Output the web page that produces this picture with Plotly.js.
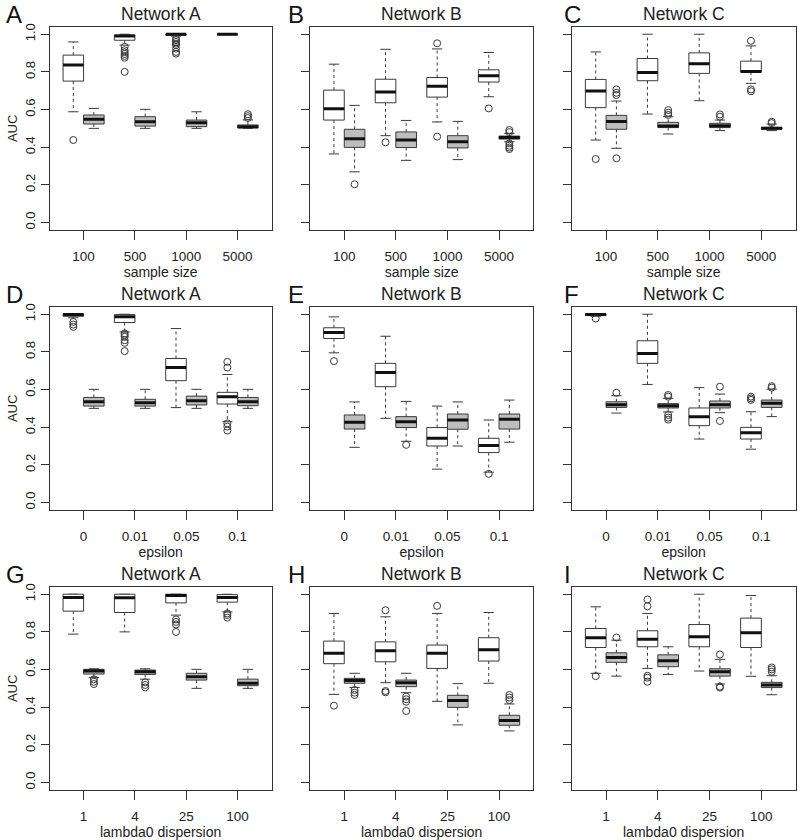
<!DOCTYPE html>
<html>
<head>
<meta charset="utf-8">
<script src="https://cdn.plot.ly/plotly-3.0.1.min.js"></script>
<style>html,body{margin:0;padding:0;background:#fff;}#chart{width:798px;height:840px;}</style>
</head>
<body>
<div id="chart"></div>
<script>
// ---------- categories / labels ----------
const catsSample = ["100", "500", "1000", "5000"];
const catsEpsilon = ["0", "0.01", "0.05", "0.1"];
const catsLambda = ["1", "4", "25", "100"];
const yTickVals = [0, 0.2, 0.4, 0.6, 0.8, 1.0];
const yTickText = ["0.0", "0.2", "0.4", "0.6", "0.8", "1.0"];
const panelLetters = ["A", "B", "C", "D", "E", "F", "G", "H", "I"];
const panelTitles = ["Network A", "Network B", "Network C", "Network A", "Network B", "Network C", "Network A", "Network B", "Network C"];
const rowXLabels = ["sample size", "epsilon", "lambda0 dispersion"];

// ---------- box statistics: [lower whisker, Q1, median, Q3, upper whisker] ----------
// Panel A
const A_white = [[0.588,0.751,0.836,0.889,0.959],[0.942,0.968,0.991,0.996,1.000],[0.990,0.995,1.000,1.000,1.000],[0.998,0.998,1.000,1.000,1.000]];
const A_white_out = [[0.438],[0.933,0.915,0.905,0.895,0.885,0.875,0.800],[0.977,0.968,0.959,0.950,0.942,0.924,0.906,0.897],[]];
const A_gray = [[0.500,0.523,0.548,0.571,0.606],[0.500,0.512,0.535,0.562,0.601],[0.500,0.509,0.530,0.544,0.588],[0.500,0.502,0.509,0.518,0.545]];
const A_gray_out = [[],[],[],[0.555,0.565,0.575]];
// Panel B
const B_white = [[0.364,0.544,0.604,0.703,0.841],[0.461,0.636,0.693,0.761,0.920],[0.534,0.666,0.723,0.770,0.922],[0.668,0.746,0.779,0.811,0.903]];
const B_white_out = [[],[0.426],[0.952,0.456],[0.606]];
const B_gray = [[0.269,0.399,0.445,0.495,0.622],[0.330,0.398,0.438,0.481,0.542],[0.334,0.396,0.429,0.461,0.537],[0.429,0.443,0.451,0.459,0.473]];
const B_gray_out = [[0.203],[],[],[0.491,0.480,0.420,0.408,0.398,0.390]];
// Panel C
const C_white = [[0.438,0.610,0.698,0.760,0.906],[0.576,0.753,0.797,0.871,1.000],[0.647,0.792,0.843,0.901,1.000],[0.739,0.799,0.802,0.857,0.938]];
const C_white_out = [[0.337],[],[],[0.965,0.707,0.697]];
const C_gray = [[0.394,0.495,0.537,0.569,0.645],[0.470,0.504,0.512,0.532,0.562],[0.488,0.504,0.514,0.527,0.544],[0.488,0.495,0.500,0.505,0.523]];
const C_gray_out = [[0.707,0.689,0.677,0.341],[0.597,0.583,0.571],[0.574,0.562],[0.535,0.528]];
// Panel D
const D_white = [[0.981,0.989,0.998,1.000,1.000],[0.906,0.956,0.986,0.998,1.000],[0.504,0.647,0.717,0.765,0.924],[0.429,0.523,0.562,0.585,0.680]];
const D_white_out = [[0.959,0.945,0.933],[0.898,0.889,0.880,0.862,0.848,0.804],[],[0.747,0.717,0.420,0.403,0.382]];
const D_gray = [[0.500,0.512,0.535,0.558,0.601],[0.500,0.512,0.530,0.548,0.601],[0.500,0.518,0.541,0.565,0.601],[0.500,0.514,0.535,0.558,0.601]];
const D_gray_out = [[],[],[],[]];
// Panel E
const E_white = [[0.795,0.871,0.903,0.928,0.986],[0.447,0.615,0.691,0.739,0.883],[0.177,0.300,0.341,0.398,0.512],[0.161,0.265,0.302,0.341,0.438]];
const E_white_out = [[0.751],[],[],[0.152]];
const E_gray = [[0.293,0.390,0.426,0.465,0.534],[0.325,0.398,0.429,0.456,0.537],[0.300,0.389,0.438,0.470,0.534],[0.320,0.390,0.442,0.470,0.544]];
const E_gray_out = [[],[0.306],[],[]];
// Panel F
const F_white = [[0.989,0.993,0.998,1.000,1.000],[0.627,0.739,0.792,0.859,1.000],[0.337,0.408,0.456,0.502,0.610],[0.283,0.337,0.371,0.399,0.482]];
const F_white_out = [[0.977],[],[],[0.562,0.553,0.545]];
const F_gray = [[0.475,0.505,0.519,0.535,0.567],[0.481,0.502,0.514,0.525,0.553],[0.477,0.502,0.519,0.539,0.576],[0.456,0.505,0.527,0.544,0.602]];
const F_gray_out = [[0.583],[0.571,0.562,0.465,0.451,0.440],[0.615,0.433],[0.618,0.610]];
// Panel G
const G_white = [[0.788,0.910,0.982,1.000,1.000],[0.800,0.903,0.981,1.000,1.000],[0.889,0.954,0.993,1.000,1.000],[0.906,0.958,0.982,0.998,1.000]];
const G_white_out = [[],[],[0.866,0.853,0.839,0.800],[0.898,0.889,0.876]];
const G_gray = [[0.558,0.576,0.592,0.601,0.604],[0.549,0.574,0.588,0.597,0.604],[0.500,0.544,0.562,0.580,0.601],[0.500,0.514,0.527,0.549,0.601]];
const G_gray_out = [[0.548,0.535,0.523],[0.532,0.518,0.505],[],[]];
// Panel H
const H_white = [[0.468,0.631,0.687,0.751,0.898],[0.530,0.641,0.700,0.747,0.880],[0.431,0.606,0.686,0.730,0.898],[0.527,0.645,0.705,0.769,0.903]];
const H_white_out = [[0.408],[0.915,0.486,0.479],[0.938],[]];
const H_gray = [[0.505,0.527,0.542,0.553,0.580],[0.477,0.509,0.530,0.544,0.580],[0.306,0.399,0.435,0.463,0.525],[0.274,0.304,0.329,0.357,0.417]];
const H_gray_out = [[0.491,0.477,0.465],[0.456,0.442,0.429,0.380],[],[0.465,0.451,0.438]];
// Panel I
const I_white = [[0.580,0.717,0.769,0.818,0.933],[0.606,0.721,0.761,0.806,0.898],[0.592,0.721,0.774,0.839,1.000],[0.564,0.717,0.795,0.873,0.993]];
const I_white_out = [[0.565],[0.972,0.936,0.567,0.557,0.535],[],[]];
const I_gray = [[0.565,0.638,0.664,0.689,0.756],[0.574,0.615,0.647,0.678,0.721],[0.523,0.565,0.588,0.604,0.654],[0.466,0.504,0.518,0.532,0.567]];
const I_gray_out = [[0.770],[],[0.680,0.509,0.504],[0.611,0.601,0.588]];

// ---------- assemble ----------
const whites = [A_white,B_white,C_white,D_white,E_white,F_white,G_white,H_white,I_white];
const whiteOuts = [A_white_out,B_white_out,C_white_out,D_white_out,E_white_out,F_white_out,G_white_out,H_white_out,I_white_out];
const grays = [A_gray,B_gray,C_gray,D_gray,E_gray,F_gray,G_gray,H_gray,I_gray];
const grayOuts = [A_gray_out,B_gray_out,C_gray_out,D_gray_out,E_gray_out,F_gray_out,G_gray_out,H_gray_out,I_gray_out];
const rowCats = [catsSample, catsEpsilon, catsLambda];

const W = 798, H = 840;
const colPx = [[49.5,271.7],[310,533.3],[571.7,795.7]];
const rowPx = [[26.7,230],[306.7,510],[586.7,790]];
const letterX = [4, 286, 562];
const FONT = "Liberation Sans, Arial, Helvetica, sans-serif";
const LINE = "#333";
const BOXLINE = "#3a3a3a";

const traces = [];
const layout = {
  width: W, height: H,
  margin: {l:0, r:0, t:0, b:0},
  paper_bgcolor: "#fff", plot_bgcolor: "#fff",
  showlegend: false,
  font: {family: FONT, color: "#222", size: 13},
  annotations: []
};

function addBoxes(stats, outs, offset, fillcolor, xa, ya) {
  const px=[],py=[],mx=[],my=[],wx=[],wy=[],cx=[],cy=[],ox=[],oy=[];
  const h = 0.2, st = 0.1;
  stats.forEach((s, i) => {
    const c = i + 1 + offset;
    const [lo,q1,md,q3,hi] = s;
    px.push(c-h,c+h,c+h,c-h,c-h,null); py.push(q1,q1,q3,q3,q1,null);
    mx.push(c-h,c+h,null); my.push(md,md,null);
    wx.push(c,c,null,c,c,null); wy.push(q3,hi,null,q1,lo,null);
    cx.push(c-st,c+st,null,c-st,c+st,null); cy.push(hi,hi,null,lo,lo,null);
    (outs[i]||[]).forEach(v => { ox.push(c); oy.push(v); });
  });
  const base = {xaxis: xa, yaxis: ya, hoverinfo: "skip", showlegend: false, type: "scatter"};
  traces.push(Object.assign({}, base, {x: wx, y: wy, mode: "lines", line: {color: BOXLINE, width: 1, dash: "3px,3px"}}));
  traces.push(Object.assign({}, base, {x: cx, y: cy, mode: "lines", line: {color: BOXLINE, width: 1}}));
  traces.push(Object.assign({}, base, {x: px, y: py, mode: "lines", fill: "toself", fillcolor: fillcolor, line: {color: BOXLINE, width: 1}}));
  traces.push(Object.assign({}, base, {x: mx, y: my, mode: "lines", line: {color: "#111", width: 3}}));
  traces.push(Object.assign({}, base, {x: ox, y: oy, mode: "markers", marker: {symbol: "circle-open", size: 7, color: BOXLINE, line: {width: 1, color: BOXLINE}}}));
}

for (let k = 0; k < 9; k++) {
  const r = Math.floor(k / 3), c = k % 3;
  const sfx = k === 0 ? "" : String(k + 1);
  const xa = "x" + sfx, ya = "y" + sfx;
  const [l, rr] = colPx[c];
  const [t, b] = rowPx[r];
  layout["xaxis" + sfx] = {
    domain: [l / W, rr / W], anchor: ya,
    range: [0.336, 4.664], tickmode: "array", tickvals: [1,2,3,4], ticktext: rowCats[r],
    ticks: "outside", ticklen: 9, tickcolor: LINE, tickwidth: 1,
    ticklabelstandoff: 5,
    showline: true, mirror: true, linecolor: LINE, linewidth: 1,
    showgrid: false, zeroline: false, fixedrange: true,
    tickfont: {size: 13.5, family: FONT, color: "#222"},
    title: {text: rowXLabels[r], font: {size: 14, family: FONT, color: "#222"}, standoff: 0}
  };
  layout["yaxis" + sfx] = {
    domain: [1 - b / H, 1 - t / H], anchor: xa,
    range: [-0.04, 1.04], tickmode: "array", tickvals: yTickVals, ticktext: yTickText,
    tickangle: -90, ticks: "outside", ticklen: 8, tickcolor: LINE, tickwidth: 1,
    ticklabelstandoff: 0,
    showticklabels: c === 0,
    showline: true, mirror: true, linecolor: LINE, linewidth: 1,
    showgrid: false, zeroline: false, fixedrange: true,
    tickfont: {size: 13, family: FONT, color: "#222"},
    title: c === 0 ? {text: "AUC", font: {size: 13, family: FONT, color: "#222"}, standoff: 2} : {text: ""}
  };
  addBoxes(whites[k], whiteOuts[k], -0.2, "#ffffff", xa, ya);
  addBoxes(grays[k], grayOuts[k], 0.2, "#bebebe", xa, ya);

  layout.annotations.push({
    xref: "paper", yref: "paper", x: (l + rr) / 2 / W, y: 1 - (t - 12.5) / H,
    text: panelTitles[k], showarrow: false, xanchor: "center", yanchor: "middle",
    font: {size: 17.5, family: FONT, color: "#222"}
  });
  layout.annotations.push({
    xref: "paper", yref: "paper", x: letterX[c] / W, y: 1 - (t - 12.5) / H,
    text: panelLetters[k], showarrow: false, xanchor: "left", yanchor: "middle",
    font: {size: 24, family: FONT, color: "#111"}
  });
}

Plotly.newPlot("chart", traces, layout, {staticPlot: true, displayModeBar: false});
</script>
</body>
</html>
